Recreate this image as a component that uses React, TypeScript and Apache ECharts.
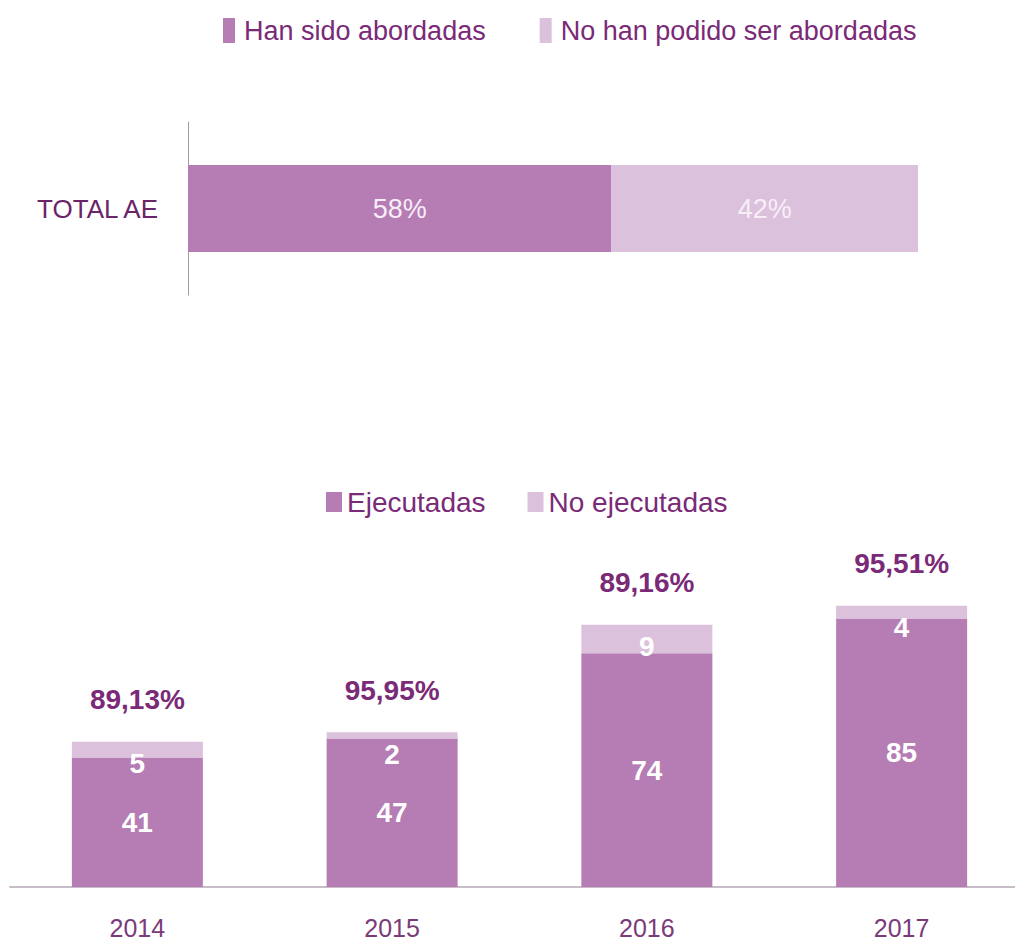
import React, { useEffect, useRef } from "react";
import * as echarts from "echarts";

const topCategories = ["TOTAL AE"];
const topSeriesNames = ["Han sido abordadas", "No han podido ser abordadas"];
const topAbordadas = [58];
const topNoAbordadas = [42];

const years = ["2014", "2015", "2016", "2017"];
const bottomSeriesNames = ["Ejecutadas", "No ejecutadas"];
const ejecutadas = [41, 47, 74, 85];
const noEjecutadas = [5, 2, 9, 4];
const percentLabels = ["89,13%", "95,95%", "89,16%", "95,51%"];

const DARK = "#b57db3";
const LIGHT = "#dcc1dc";
const TEXT = "#7a2a77";
const SANS = "'Liberation Sans', Arial, sans-serif";

export default function App() {
  const ref = useRef<HTMLDivElement>(null);
  useEffect(() => {
    document.body.style.margin = "0";
    const chart = echarts.init(ref.current!, null, { renderer: "svg" });
    chart.setOption({
      animation: false,
      backgroundColor: "#ffffff",
      color: [DARK, LIGHT],
      legend: [
        {
          data: topSeriesNames,
          left: 223,
          top: 17,
          width: 780,
          padding: 0,
          itemWidth: 12,
          itemHeight: 25,
          itemGap: 54,
          icon: "rect",
          textStyle: { fontFamily: SANS, fontSize: 27, color: TEXT, padding: [0, 0, 0, 4] },
        },
        {
          data: bottomSeriesNames,
          left: 326,
          top: 488,
          width: 600,
          padding: 0,
          itemWidth: 16,
          itemHeight: 20,
          itemGap: 42,
          icon: "rect",
          textStyle: { fontFamily: SANS, fontSize: 28, color: TEXT },
        },
      ],
      grid: [
        { left: 188, width: 730, top: 122, height: 173, outerBoundsMode: "none", containLabel: false },
        { left: 10, width: 1019, top: 571, height: 316, outerBoundsMode: "none", containLabel: false },
      ],
      xAxis: [
        { type: "value", gridIndex: 0, min: 0, max: 100, show: false },
        {
          type: "category",
          gridIndex: 1,
          data: years,
          axisLine: { show: true, lineStyle: { color: "#c9bcc9", width: 2 } },
          axisTick: { show: false },
          axisLabel: { fontFamily: SANS, fontSize: 25, color: "#7b3a79", margin: 28 },
        },
      ],
      yAxis: [
        {
          type: "category",
          gridIndex: 0,
          data: topCategories,
          axisLine: { show: true, lineStyle: { color: "#a898a8", width: 1 } },
          axisTick: { show: false },
          axisLabel: { fontFamily: SANS, fontSize: 26, color: "#6c2468", margin: 30 },
        },
        { type: "value", gridIndex: 1, min: 0, max: 100, show: false },
      ],
      series: [
        {
          name: topSeriesNames[0],
          type: "bar",
          xAxisIndex: 0,
          yAxisIndex: 0,
          stack: "top",
          barWidth: 87,
          data: topAbordadas,
          itemStyle: { color: DARK },
          label: {
            show: true,
            position: "inside",
            formatter: "{c}%",
            fontFamily: SANS,
            fontSize: 27,
            color: "#f8eef8",
          },
        },
        {
          name: topSeriesNames[1],
          type: "bar",
          xAxisIndex: 0,
          yAxisIndex: 0,
          stack: "top",
          barWidth: 87,
          data: topNoAbordadas,
          itemStyle: { color: LIGHT },
          label: {
            show: true,
            position: "inside",
            formatter: "{c}%",
            fontFamily: SANS,
            fontSize: 27,
            color: "#f8eef8",
          },
        },
        {
          name: bottomSeriesNames[0],
          type: "bar",
          xAxisIndex: 1,
          yAxisIndex: 1,
          stack: "bottom",
          barWidth: 131,
          data: ejecutadas,
          itemStyle: { color: DARK },
          label: {
            show: true,
            position: "inside",
            fontFamily: SANS,
            fontWeight: "bold",
            fontSize: 28,
            color: "#ffffff",
          },
        },
        {
          name: bottomSeriesNames[1],
          type: "bar",
          xAxisIndex: 1,
          yAxisIndex: 1,
          stack: "bottom",
          barWidth: 131,
          data: noEjecutadas,
          itemStyle: { color: LIGHT },
          label: {
            show: true,
            position: "insideTop",
            distance: 8,
            fontFamily: SANS,
            fontWeight: "bold",
            fontSize: 28,
            color: "#ffffff",
          },
        },
        {
          name: "pct",
          type: "bar",
          xAxisIndex: 1,
          yAxisIndex: 1,
          stack: "bottom",
          barWidth: 131,
          data: years.map(() => 0),
          itemStyle: { color: "transparent" },
          label: {
            show: true,
            position: "top",
            distance: 28,
            formatter: (p: any) => percentLabels[p.dataIndex],
            fontFamily: SANS,
            fontWeight: "bold",
            fontSize: 28,
            color: TEXT,
          },
        },
      ],
    });
    return () => chart.dispose();
  }, []);
  return <div ref={ref} style={{ width: 1015, height: 946 }} />;
}
